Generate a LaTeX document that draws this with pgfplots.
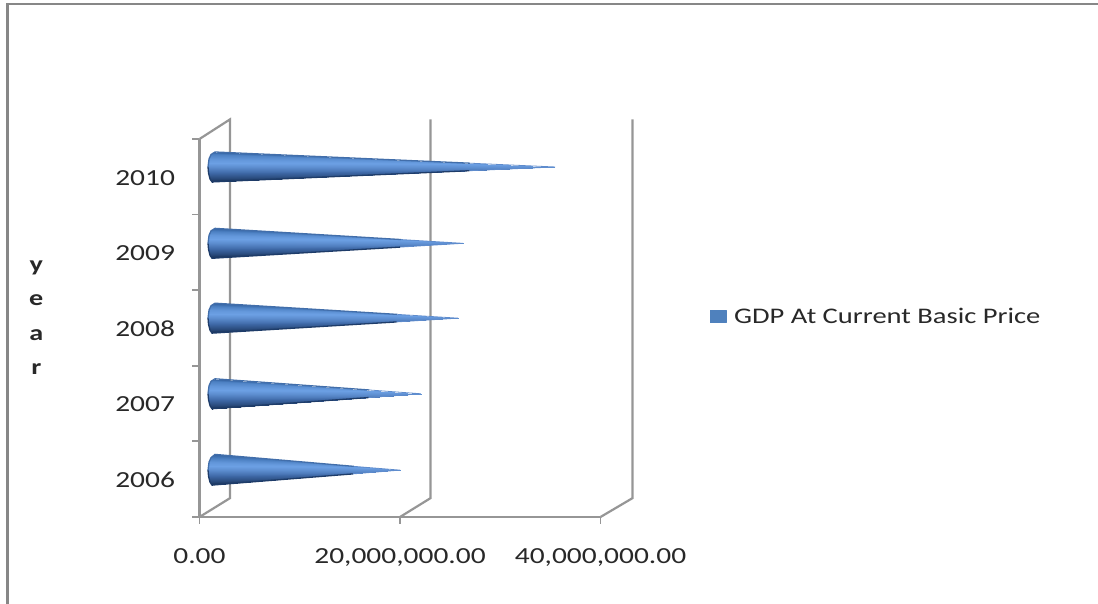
\documentclass[border=0pt]{standalone}
\usepackage{fontspec}
\setmainfont[FakeStretch=1.28]{Carlito}
\usepackage{pgfplots}
\pgfplotsset{compat=1.18}
\definecolor{wall}{RGB}{150,150,150}
\definecolor{frameg}{RGB}{135,135,135}
\definecolor{txt}{RGB}{40,40,40}
\definecolor{swatch}{RGB}{79,129,189}
\definecolor{edgetop}{RGB}{66,110,170}
\definecolor{edgebot}{RGB}{30,60,105}
\definecolor{edgetip}{RGB}{95,140,205}
\begin{document}
\begin{tikzpicture}
\path[use as bounding box] (0,0) rectangle (1098pt,604pt);
\draw[frameg,line width=2.6pt] (7.5pt,0pt)--(7.5pt,600pt)--(1098pt,600pt);
\begin{axis}[
  at={(199.5pt,87pt)},anchor=south west,
  scale only axis,width=401pt,height=378pt,
  xmin=0,xmax=40000000,ymin=0,ymax=5,
  clip=false,
  axis x line*=bottom,axis y line*=left,
  axis line style={wall,line width=2.2pt,-},
  tick align=outside,
  major tick length=0pt,minor tick length=7pt,
  minor tick style={wall,line width=1.8pt},
  xtick={0,20000000,40000000},
  xticklabels={{0.00\hspace{15pt}},{20,000,000.00},{40,000,000.00}},
  minor xtick={0,20000000,40000000},
  ytick={0.5,1.5,2.5,3.5,4.5},
  yticklabels={2006,2007,2008,2009,2010},
  minor ytick={0,1,2,3,4,5},
  scaled x ticks=false,
  tick label style={font=\fontsize{23}{27}\selectfont,text=txt},
  xticklabel style={yshift=-28pt},
  yticklabel style={xshift=-21pt,yshift=-1pt},
  ylabel={y\\e\\a\\r},
  ylabel style={rotate=-90,align=center,font=\fontsize{22}{34.5}\selectfont\bfseries,text=txt,
    at={(axis description cs:-0.407,0.527)},anchor=center},
  colormap={cone}{rgb255(0)=(50,96,158) rgb255(4)=(72,124,190) rgb255(9)=(108,160,228) rgb255(13)=(62,104,166) rgb255(20)=(20,44,80)},
  point meta min=0,point meta max=1,
  legend style={draw=none,fill=none,at={(axis description cs:1.272,0.529)},anchor=west,
    font=\fontsize{22.3}{27}\selectfont,text=txt,inner sep=0pt},
  legend cell align=left,
]
\addplot[wall,line width=2.2pt,forget plot] coordinates {(0,0) (3050000,0.25) (3050000,5.26) (0,5)};
\addplot[wall,line width=2.2pt,forget plot] coordinates {(20000000,0) (23050000,0.25) (23050000,5.26)};
\addplot[wall,line width=2.2pt,forget plot] coordinates {(40000000,0) (43200000,0.25) (43200000,5.26)};
\addplot[patch,shader=interp,patch type=triangle,
  table/row sep=\\,
  patch table={
0 1 7\\ 1 2 7\\ 2 3 7\\ 3 4 7\\ 4 5 7\\ 5 6 7\\
8 9 15\\ 9 10 15\\ 10 11 15\\ 11 12 15\\ 12 13 15\\ 13 14 15\\
16 17 23\\ 17 18 23\\ 18 19 23\\ 19 20 23\\ 20 21 23\\ 21 22 23\\
24 25 31\\ 25 26 31\\ 26 27 31\\ 27 28 31\\ 28 29 31\\ 29 30 31\\
32 33 39\\ 33 34 39\\ 34 35 39\\ 35 36 39\\ 36 37 39\\ 37 38 39\\
  },
  legend image code/.code={\fill[swatch] (0pt,-5.5pt) rectangle (16pt,6.5pt);\path (22pt,0pt);},
] table[x=x,y=y,point meta=\thisrow{c}] {
x y c\\
1550000 0.828 0.00\\
1150000 0.785 0.22\\
950000 0.726 0.38\\
850000 0.620 0.52\\
900000 0.540 0.65\\
1050000 0.460 0.85\\
1250000 0.422 1.00\\
20000000 0.620 0.50\\
1550000 1.828 0.00\\
1150000 1.795 0.22\\
950000 1.736 0.38\\
850000 1.630 0.52\\
900000 1.550 0.65\\
1050000 1.470 0.85\\
1250000 1.432 1.00\\
22090000 1.630 0.50\\
1550000 2.828 0.00\\
1150000 2.795 0.22\\
950000 2.736 0.38\\
850000 2.630 0.52\\
900000 2.550 0.65\\
1050000 2.470 0.85\\
1250000 2.432 1.00\\
25790000 2.630 0.50\\
1550000 3.818 0.00\\
1150000 3.785 0.22\\
950000 3.726 0.38\\
850000 3.620 0.52\\
900000 3.540 0.65\\
1050000 3.460 0.85\\
1250000 3.422 1.00\\
26280000 3.620 0.50\\
1550000 4.828 0.00\\
1150000 4.795 0.22\\
950000 4.736 0.38\\
850000 4.630 0.52\\
900000 4.550 0.65\\
1050000 4.470 0.85\\
1250000 4.432 1.00\\
35460000 4.630 0.50\\
};
\addlegendentry{GDP At Current Basic Price}
% antialiased cone edges: body of each silhouette
\pgfplotsset{every axis plot/.append style={forget plot}}
\addplot[edgetop,line width=1.3pt] coordinates {(850000,0.620) (950000,0.726) (1150000,0.785) (1550000,0.828) (15390000,0.670)};
\addplot[edgebot,line width=1.3pt] coordinates {(850000,0.620) (900000,0.540) (1050000,0.460) (1250000,0.422) (15310000,0.570)};
\addplot[edgetop,line width=1.3pt] coordinates {(850000,1.630) (950000,1.736) (1150000,1.795) (1550000,1.828) (16955000,1.680)};
\addplot[edgebot,line width=1.3pt] coordinates {(850000,1.630) (900000,1.550) (1050000,1.470) (1250000,1.432) (16880000,1.580)};
\addplot[edgetop,line width=1.3pt] coordinates {(850000,2.630) (950000,2.736) (1150000,2.795) (1550000,2.828) (19730000,2.680)};
\addplot[edgebot,line width=1.3pt] coordinates {(850000,2.630) (900000,2.550) (1050000,2.470) (1250000,2.432) (19655000,2.580)};
\addplot[edgetop,line width=1.3pt] coordinates {(850000,3.620) (950000,3.726) (1150000,3.785) (1550000,3.818) (20100000,3.670)};
\addplot[edgebot,line width=1.3pt] coordinates {(850000,3.620) (900000,3.540) (1050000,3.460) (1250000,3.422) (20020000,3.570)};
\addplot[edgetop,line width=1.3pt] coordinates {(850000,4.630) (950000,4.736) (1150000,4.795) (1550000,4.828) (26980000,4.680)};
\addplot[edgebot,line width=1.3pt] coordinates {(850000,4.630) (900000,4.550) (1050000,4.470) (1250000,4.432) (26910000,4.580)};
% lighter, thinner run towards each tip
\addplot[edgetip,line width=0.8pt] coordinates {(15390000,0.670) (20000000,0.620) (15310000,0.570)};
\addplot[edgetip,line width=0.8pt] coordinates {(16955000,1.680) (22090000,1.630) (16880000,1.580)};
\addplot[edgetip,line width=0.8pt] coordinates {(19730000,2.680) (25790000,2.630) (19655000,2.580)};
\addplot[edgetip,line width=0.8pt] coordinates {(20100000,3.670) (26280000,3.620) (20020000,3.570)};
\addplot[edgetip,line width=0.8pt] coordinates {(26980000,4.680) (35460000,4.630) (26910000,4.580)};
\end{axis}
\end{tikzpicture}
\end{document}
